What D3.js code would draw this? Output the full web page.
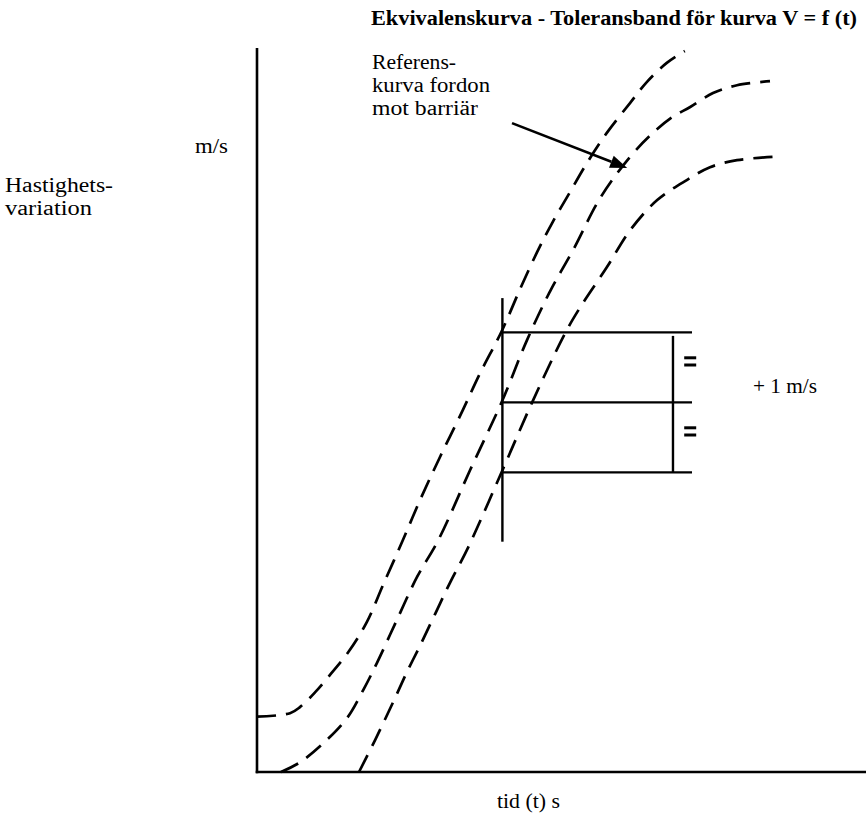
<!DOCTYPE html>
<html><head><meta charset="utf-8">
<script src="https://cdn.jsdelivr.net/npm/d3@7"></script>
<style>body{margin:0;background:#fff} svg{display:block;background:#fff}</style>
</head><body>
<svg id="chart" width="866" height="819"></svg>
<script>
// ---- data (t in arbitrary time units, v in m/s) ----
const upperT = [0, 5.5, 7.2, 9.7, 12.2, 15.2, 18.3, 21, 24.3, 27.2, 30.5, 34.3, 37.2, 40.8, 43.8, 46.7, 49.3, 52.2, 55, 58.3, 62.2, 65, 68.3, 71.3];
const upperV = [0.79, 0.84, 0.93, 1.14, 1.39, 1.71, 2.14, 2.67, 3.31, 3.89, 4.5, 5.17, 5.7, 6.3, 6.89, 7.43, 7.86, 8.29, 8.7, 9.13, 9.56, 9.86, 10.13, 10.3];
const refT = [4, 7.2, 11.3, 15, 17.7, 20, 23.3, 26.7, 30.2, 35.5, 40.8, 45, 48.8, 52.7, 57.2, 62.2, 66, 69.3, 72.2, 76, 80, 85.5];
const refV = [0, 0.14, 0.43, 0.77, 1.17, 1.56, 2.17, 2.79, 3.31, 4.31, 5.29, 6.17, 6.86, 7.46, 8.2, 8.79, 9.13, 9.36, 9.5, 9.7, 9.81, 9.87];
const lowerT = [17, 19.7, 22.7, 25, 27.2, 29.7, 32.2, 35.2, 40.8, 45.8, 51.3, 53.8, 58.3, 62.2, 66.7, 71.7, 75.5, 80, 86.3];
const lowerV = [0, 0.46, 1.0, 1.43, 1.81, 2.26, 2.71, 3.21, 4.29, 5.27, 6.26, 6.63, 7.21, 7.74, 8.17, 8.46, 8.64, 8.74, 8.79];

const bandT = 40.9;      // time of tolerance check
const bandRefV = 5.28;   // reference speed at bandT
const tolerance = 1;     // +/- 1 m/s
const arrowFrom = [42.5, 9.27];
const arrowTo = [61.7, 8.63];

const labels = {
  title: "Ekvivalenskurva - Toleransband för kurva V = f (t)",
  ref: ["Referens-", "kurva fordon", "mot barriär"],
  unitY: "m/s",
  yTitle: ["Hastighets-", "variation"],
  tol: "+ 1 m/s",
  xTitle: "tid (t) s"
};

// ---- scales ----
const x = d3.scaleLinear().domain([0, 100]).range([257, 857]);
const y = d3.scaleLinear().domain([0, 10]).range([772, 72]);
const svg = d3.select("#chart");
const ink = "#000";
const serif = "'Liberation Serif', 'Times New Roman', serif";

// axes
const yTop = y.invert(48), xEnd = x.invert(866);
svg.append("line").attr("x1", x(0)).attr("x2", x(0)).attr("y1", y(0) + 1.3).attr("y2", y(yTop))
  .attr("stroke", ink).attr("stroke-width", 2.6);
svg.append("line").attr("x1", x(0) - 1.3).attr("x2", x(xEnd)).attr("y1", y(0)).attr("y2", y(0))
  .attr("stroke", ink).attr("stroke-width", 2.6);

// curves
const line = d3.line().x(d => x(d[0])).y(d => y(d[1])).curve(d3.curveCatmullRom.alpha(0.5));
const series = [d3.zip(upperT, upperV), d3.zip(refT, refV), d3.zip(lowerT, lowerV)];
svg.selectAll("path.curve").data(series).join("path").attr("class", "curve")
  .attr("d", line).attr("fill", "none").attr("stroke", ink).attr("stroke-width", 2.7)
  .attr("stroke-dasharray", "19,10");

// tolerance box
const boxEndT = 72.5, tolBarT = 69.33;
svg.append("line").attr("x1", x(bandT)).attr("x2", x(bandT))
  .attr("y1", y(bandRefV + tolerance + 0.49)).attr("y2", y(bandRefV - tolerance - 0.99))
  .attr("stroke", ink).attr("stroke-width", 2.4);
[bandRefV + tolerance, bandRefV, bandRefV - tolerance].forEach(v => {
  svg.append("line").attr("x1", x(bandT)).attr("x2", x(boxEndT)).attr("y1", y(v)).attr("y2", y(v))
    .attr("stroke", ink).attr("stroke-width", 2.4);
});
svg.append("line").attr("x1", x(tolBarT)).attr("x2", x(tolBarT))
  .attr("y1", y(bandRefV + tolerance - 0.05)).attr("y2", y(bandRefV - tolerance))
  .attr("stroke", ink).attr("stroke-width", 2.4);
// equal signs
[bandRefV + tolerance / 2, bandRefV - tolerance / 2].forEach(v => {
  const cy = y(v) - 6;
  [-3.6, 3.6].forEach(off => {
    svg.append("line").attr("x1", x(71.2)).attr("x2", x(73.2)).attr("y1", cy + off).attr("y2", cy + off)
      .attr("stroke", ink).attr("stroke-width", 3);
  });
});

// arrow
const ax1 = x(arrowFrom[0]), ay1 = y(arrowFrom[1]), ax2 = x(arrowTo[0]), ay2 = y(arrowTo[1]);
const ang = Math.atan2(ay2 - ay1, ax2 - ax1), hl = 17, hw = 6.5;
const bx = ax2 - hl * Math.cos(ang), by = ay2 - hl * Math.sin(ang);
svg.append("line").attr("x1", ax1).attr("y1", ay1).attr("x2", bx).attr("y2", by)
  .attr("stroke", ink).attr("stroke-width", 2.6);
svg.append("path").attr("d", d3.line()([
  [ax2, ay2],
  [bx + hw * Math.sin(ang), by - hw * Math.cos(ang)],
  [bx - hw * Math.sin(ang), by + hw * Math.cos(ang)]
]) + "Z").attr("fill", ink);

// texts
function txt(s, px, py, size, width, weight) {
  const t = svg.append("text").attr("x", px).attr("y", py).text(s)
    .attr("font-family", serif).attr("font-size", size).attr("fill", ink)
    .attr("font-weight", weight || "normal");
  if (width) t.attr("textLength", width).attr("lengthAdjust", "spacingAndGlyphs");
  return t;
}
txt(labels.title, 371, 25, 20, 486, "bold");
txt(labels.ref[0], 372, 69, 20, 84);
txt(labels.ref[1], 372, 92, 20, 118);
txt(labels.ref[2], 372, 115, 20, 106);
txt(labels.unitY, 195, 153, 20, 33);
txt(labels.yTitle[0], 5, 192, 20, 108);
txt(labels.yTitle[1], 5, 215, 20, 87);
txt(labels.tol, 753, 393, 20, 64);
txt(labels.xTitle, 497, 808, 20, 63);
</script>
</body></html>
